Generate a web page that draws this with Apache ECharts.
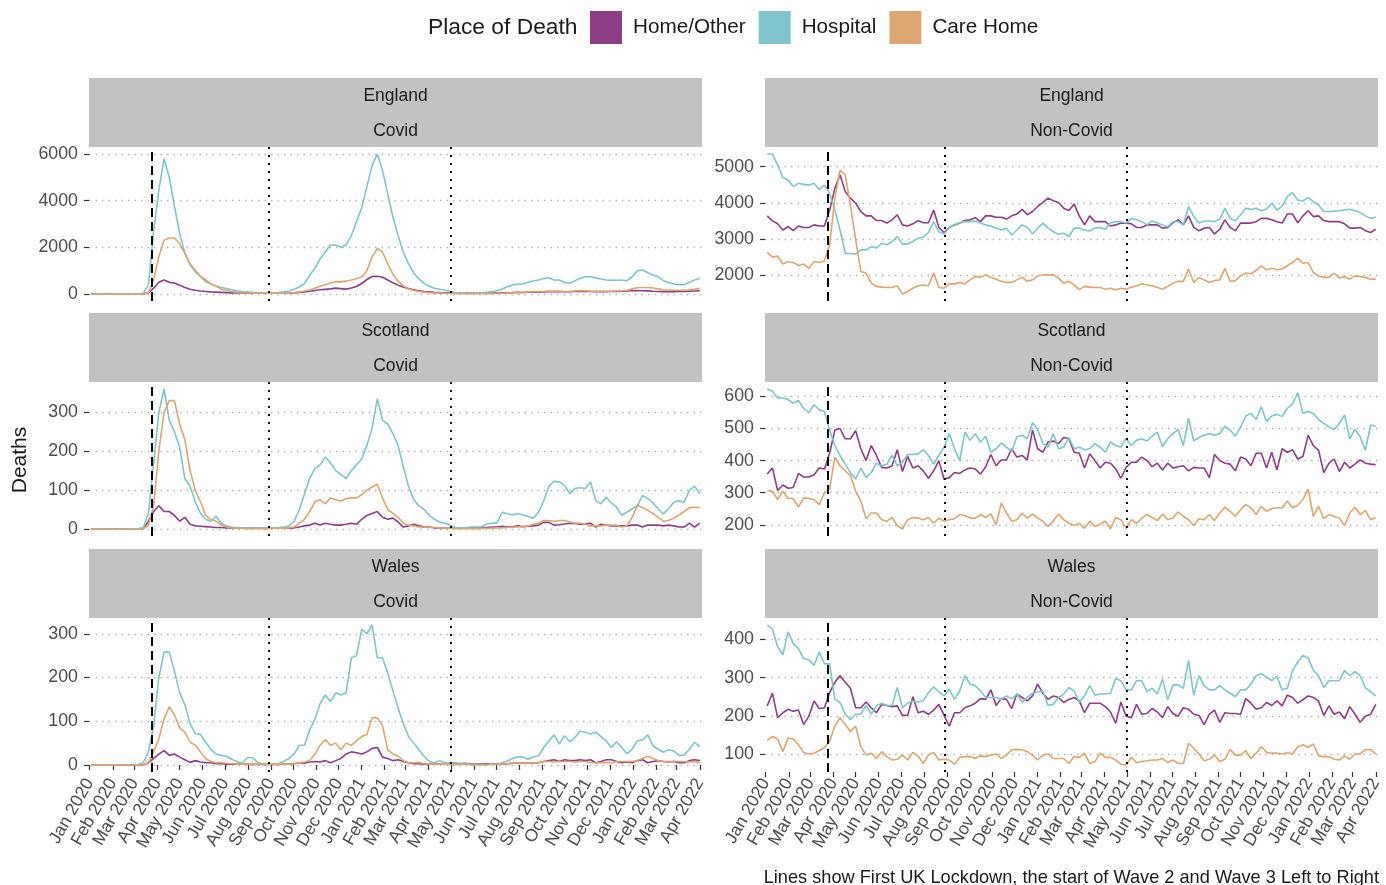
<!DOCTYPE html>
<html><head><meta charset="utf-8">
<script src="https://cdn.jsdelivr.net/npm/echarts@6/dist/echarts.min.js"></script>
<style>html,body{margin:0;padding:0;background:#fff}#c{width:1386px;height:885px}</style>
</head><body><div id="c"></div>
<script>
const FONT = '"Liberation Sans", Arial, Helvetica, sans-serif';
const firstWeek = '2020-01-03';
const monthTicks = ['2020-01-01','2020-02-01','2020-03-01','2020-04-01','2020-05-01','2020-06-01','2020-07-01','2020-08-01','2020-09-01','2020-10-01','2020-11-01','2020-12-01',
  '2021-01-01','2021-02-01','2021-03-01','2021-04-01','2021-05-01','2021-06-01','2021-07-01','2021-08-01','2021-09-01','2021-10-01','2021-11-01','2021-12-01',
  '2022-01-01','2022-02-01','2022-03-01','2022-04-01'];
const monthLabels = ['Jan 2020','Feb 2020','Mar 2020','Apr 2020','May 2020','Jun 2020','Jul 2020','Aug 2020','Sep 2020','Oct 2020','Nov 2020','Dec 2020',
  'Jan 2021','Feb 2021','Mar 2021','Apr 2021','May 2021','Jun 2021','Jul 2021','Aug 2021','Sep 2021','Oct 2021','Nov 2021','Dec 2021',
  'Jan 2022','Feb 2022','Mar 2022','Apr 2022'];
const placeNames = ['Home/Other','Hospital','Care Home'];
const placeColors = ['#8c3d86','#80c4cb','#dca673'];
const lockdownDate = '2020-03-24';
const wave2Date = '2020-08-29';
const wave3Date = '2021-05-01';
const xMinDate = '2019-12-31';
const xMaxDate = '2022-04-04';

const yTicksEngCov = [0,2000,4000,6000];
const yTicksScoCov = [0,100,200,300];
const yTicksWalCov = [0,100,200,300];
const yTicksEngNon = [2000,3000,4000,5000];
const yTicksScoNon = [200,300,400,500,600];
const yTicksWalNon = [100,200,300,400];

// England Covid
const engCovHome = [0,0,0,0,0,0,0,0,0,0, 5,50,250,500,600,500,470,380,280,200, 160,130,110,90,80,70,60,50,45,40, 35,30,30,30,30,30,30,35,40,50,
  70,90,120,150,180,200,220,250,230,210, 260,320,450,620,750,760,720,600,480,380, 300,230,180,140,110,90,70,60,55,50, 40,35,30,30,30,30,35,40,45,50,
  55,60,70,65,75,85,80,90,100,95, 100,95,95,110,115,110,105,100,100,100, 105,110,115,130,140,145,140,135,120,110, 100,100,100,105,110,120,130,140];
const engCovHosp = [0,0,0,0,0,0,0,0,0,5, 30,400,2700,4450,5800,5000,3750,2600,1750,1250, 950,750,530,430,340,280,230,180,140,110, 90,70,60,55,50,50,60,90,130,200,
  300,450,800,1100,1500,1800,2100,2100,2000,2100, 2500,3100,3700,4600,5500,6000,5300,4300,3300,2500, 1800,1300,900,650,450,330,250,200,160,110, 60,30,30,30,30,40,70,100,140,210,
  310,390,430,430,500,560,600,660,700,600, 600,490,460,570,670,740,740,690,640,600, 590,590,600,570,740,990,1030,910,810,740, 570,490,430,400,400,500,600,660];
const engCovCare = [0,0,0,0,0,0,0,0,0,0, 5,50,600,1600,2300,2400,2400,2150,1750,1300, 1030,770,600,430,340,200,150,110,80,60, 50,40,35,30,30,30,30,30,40,60,
  90,130,170,250,330,400,470,530,520,550, 600,650,730,1000,1600,1950,1800,1300,850,550, 350,220,150,110,80,60,50,40,30,25, 20,15,12,10,10,10,12,15,20,30,
  40,50,60,70,90,100,100,110,120,130, 120,110,110,130,150,140,120,110,110,110, 120,130,140,160,220,270,280,280,260,220, 180,170,160,160,170,180,200,240];

// Scotland Covid
const scoCovHome = [0,0,0,0,0,0,0,0,0,0, 0,20,45,60,45,45,35,20,30,12, 8,7,6,5,4,4,3,3,2,2, 2,2,2,2,2,2,2,2,2,3,
  5,8,10,15,10,15,12,10,10,12, 15,12,25,35,40,45,30,25,28,18, 5,8,12,8,5,5,3,3,2,2, 2,2,3,3,3,3,4,5,5,7,
  5,6,8,6,7,8,10,17,17,10, 11,13,15,14,12,13,15,5,12,10, 8,8,8,8,10,10,5,10,10,10, 8,10,8,5,5,15,5,15];
const scoCovHosp = [0,0,0,0,0,0,0,0,0,1, 4,40,170,300,360,280,250,210,130,110, 70,40,25,20,33,15,8,5,3,3, 3,2,2,2,2,3,4,5,8,20,
  50,90,130,155,165,185,170,150,140,130, 150,165,180,215,260,335,280,270,245,215, 160,110,75,60,50,35,25,18,15,10, 3,3,4,5,5,5,13,15,15,43,
  39,36,40,36,32,28,43,73,110,123, 121,112,91,104,106,104,121,73,65,82, 67,56,35,43,52,60,86,78,67,52, 39,52,69,73,69,99,110,91];
const scoCovCare = [0,0,0,0,0,0,0,0,0,0, 0,10,60,200,300,330,330,270,230,150, 100,70,35,25,20,10,5,3,2,2, 1,1,1,1,1,2,2,2,3,5,
  15,25,45,70,75,65,80,75,72,78, 80,80,88,100,108,115,80,50,40,30, 15,10,8,5,5,4,4,3,2,2, 1,1,1,1,1,1,2,2,3,3,
  4,5,5,6,8,12,15,22,22,20, 22,22,18,15,15,12,8,8,8,10, 10,10,5,8,30,60,55,48,40,30, 20,22,28,36,45,55,56,55];

// Wales Covid
const walCovHome = [0,0,0,0,0,0,0,0,0,0, 0,5,15,25,33,22,25,18,12,6, 10,7,5,5,3,3,2,2,2,2, 2,1,1,1,1,1,1,2,2,3,
  5,4,7,8,7,10,5,10,15,25, 30,28,25,30,38,40,18,15,10,12, 8,5,3,3,2,2,2,2,2,2, 2,2,2,2,2,2,3,3,3,3,
  3,4,4,5,4,5,5,8,10,12, 8,12,10,10,12,10,12,5,8,12, 12,8,5,7,5,10,12,5,8,10, 8,7,8,5,5,10,12,10];
const walCovHosp = [0,0,0,0,0,0,0,0,0,1, 5,30,90,200,258,258,215,165,138,95, 72,70,52,36,25,22,20,13,8,4, 17,17,6,2,1,2,3,8,15,25,
  45,45,80,105,140,160,145,165,160,165, 245,250,310,300,320,245,245,210,170,130, 95,65,50,35,20,8,5,10,5,5, 5,4,5,0,0,0,0,3,1,5,
  9,15,19,18,13,19,21,40,55,69, 48,67,53,63,77,75,71,75,65,55, 40,53,40,26,36,55,58,69,44,36, 29,35,32,22,23,36,52,42];
const walCovCare = [0,0,0,0,0,0,0,0,0,0, 0,5,30,60,105,133,115,85,75,52, 45,30,15,8,5,5,4,3,2,2, 2,2,2,2,2,2,2,2,2,3,
  5,7,10,25,45,58,45,50,35,50, 45,55,65,70,108,108,90,35,25,20, 10,5,5,6,3,2,2,2,2,2, 1,1,1,1,1,1,1,1,2,2,
  3,4,4,5,4,5,5,8,8,7, 8,8,8,7,8,8,5,5,5,6, 5,8,8,8,8,10,15,20,15,10, 8,8,8,8,8,7,8,5];

// England Non-Covid
const engNonHome = [3640,3500,3420,3250,3340,3230,3360,3320,3320,3390, 3360,3360,3800,4400,4770,4310,4130,3990,3760,3640, 3640,3510,3510,3440,3530,3670,3390,3360,3420,3510,
  3450,3450,3800,3320,3180,3320,3390,3440,3510,3530, 3590,3480,3640,3640,3600,3600,3550,3640,3690,3820, 3670,3760,3900,4010,4130,4060,4010,3850,3790,3970,
  3640,3390,3640,3480,3480,3480,3360,3390,3440,3440, 3420,3320,3320,3390,3390,3390,3300,3320,3450,3530, 3390,3640,3320,3230,3300,3320,3140,3270,3530,3320,
  3230,3440,3440,3440,3480,3570,3570,3530,3480,3440, 3690,3690,3450,3640,3780,3620,3640,3510,3480,3480, 3480,3420,3300,3300,3320,3230,3180,3270];
const engNonHosp = [5350,5350,5045,4700,4630,4450,4540,4510,4490,4540, 4370,4490,4260,3800,3250,2600,2600,2580,2700,2700, 2790,2750,2880,2840,2930,3070,2860,2860,2930,3020,
  3050,3180,3480,3200,3140,3320,3400,3450,3480,3480, 3500,3440,3390,3360,3300,3250,3300,3110,3250,3390, 3320,3140,3300,3440,3300,3200,3130,3160,3070,3300,
  3300,3250,3220,3300,3320,3270,3450,3480,3480,3440, 3570,3530,3480,3390,3500,3440,3390,3340,3480,3480, 3390,3900,3620,3440,3500,3500,3480,3550,3850,3570,
  3500,3670,3850,3820,3850,3780,3830,3990,3800,3910, 4170,4280,4080,4050,4150,4030,3940,3760,3760,3770, 3780,3800,3820,3780,3730,3640,3570,3610];
const engNonCare = [2630,2500,2530,2310,2370,2350,2270,2310,2190,2380, 2350,2400,2840,4130,4900,4770,3940,2980,2100,2060, 1780,1690,1670,1660,1660,1710,1480,1550,1640,1710,
  1730,1710,2060,1660,1640,1760,1760,1800,1760,1870, 1960,1940,2010,1940,1890,1830,1800,1800,1870,1940, 1830,1870,1980,2010,2010,2010,1920,1780,1830,1730,
  1600,1690,1670,1660,1660,1610,1640,1600,1640,1610, 1670,1710,1760,1730,1710,1660,1610,1690,1780,1830, 1830,2170,1800,1940,1870,1800,1850,1870,2190,1830,
  1850,1980,2060,2040,2130,2260,2150,2190,2150,2170, 2260,2350,2470,2330,2350,2070,1980,1940,1940,2060, 1920,1960,1890,1980,1960,1940,1890,1890];

// Scotland Non-Covid
const scoNonHome = [358,377,307,324,314,316,360,349,349,356, 377,374,423,495,500,468,468,493,437,400, 447,416,379,377,384,434,366,413,377,384,
  368,345,368,400,342,347,363,360,371,377, 374,358,381,419,384,402,402,437,411,416, 402,495,437,426,458,461,453,472,468,426,
  423,377,421,400,377,395,392,374,345,379, 395,395,411,400,381,392,371,392,377,381, 384,368,379,377,377,347,419,400,392,389,
  368,411,405,384,423,423,377,426,371,437, 426,434,405,413,479,447,432,363,392,405, 366,395,377,389,402,392,389,387];
const scoNonHosp = [623,616,595,595,590,579,587,563,549,574, 558,553,495,447,416,389,363,342,377,347, 363,392,384,389,416,384,395,419,419,421,
  434,416,389,416,442,484,437,400,489,463, 484,458,476,426,437,455,442,429,474,479, 468,518,497,453,442,484,437,442,472,437,
  442,434,437,453,442,426,458,447,442,468, 447,463,468,461,476,489,444,468,484,497, 447,532,461,472,479,484,479,484,507,495,
  476,505,539,547,528,568,521,539,544,537, 563,577,611,547,553,547,528,516,505,497, 516,542,468,497,474,432,511,507];
const scoNonCare = [307,305,279,305,282,282,255,284,282,279, 263,300,311,411,384,368,353,305,274,219, 237,237,216,211,223,198,187,216,223,221,
  216,223,205,221,211,216,219,232,229,221, 221,232,223,234,200,268,237,211,216,237, 221,234,221,211,195,213,234,216,205,198,
  205,189,211,195,202,211,187,223,216,189, 216,205,221,232,223,213,234,216,221,240, 226,216,198,219,216,232,213,237,255,242,
  226,247,263,253,232,258,242,251,253,253, 274,253,261,279,311,226,258,219,232,226, 221,198,237,255,232,244,216,223];

// Wales Non-Covid
const walNonHome = [226,259,195,208,217,212,215,177,199,239, 219,221,261,288,305,288,272,221,221,236, 221,208,230,227,224,226,201,201,250,208,
  212,204,215,230,201,173,208,208,221,226, 233,245,243,268,227,245,243,219,257,248, 239,252,283,259,243,252,248,235,243,248,
  239,208,233,233,233,224,210,180,236,199, 195,230,204,206,219,210,195,224,206,199, 221,217,204,201,177,204,215,183,208,206,
  206,204,245,233,217,221,235,227,239,226, 254,248,233,242,252,248,239,201,226,204, 210,192,224,204,183,199,204,230];
const walNonHosp = [438,427,381,360,420,389,376,350,347,332, 367,336,336,243,235,204,190,204,204,227, 204,226,233,227,227,274,221,233,239,236,
  239,261,276,263,252,270,243,265,305,283, 279,265,248,248,248,243,252,245,257,236, 248,259,263,265,227,230,248,257,274,265,
  236,252,279,254,257,257,259,298,292,268, 268,292,292,263,272,257,296,242,281,281, 272,345,254,305,279,268,268,279,268,259,
  250,268,268,283,305,310,301,292,303,268, 272,319,341,358,351,319,305,274,292,292, 292,319,305,316,305,274,263,252];
const walNonCare = [135,146,139,106,142,139,124,104,100,102, 109,117,133,173,195,177,159,173,119,97, 102,88,106,93,84,86,97,84,104,95,
  75,97,104,84,86,84,73,91,93,93, 88,95,93,97,100,88,97,111,112,111, 106,97,84,97,100,88,88,88,75,93,
  91,102,75,80,102,91,91,84,73,71, 91,77,80,82,84,84,88,77,84,75, 75,128,115,100,82,86,97,80,86,112,
  97,97,109,88,102,119,104,102,102,100, 104,100,119,124,117,126,95,93,93,86, 84,95,86,100,100,111,111,100];

const panels = [
  {row:0, col:0, place:'England',  cause:'Covid',     data:[engCovHome, engCovHosp, engCovCare], ticks:yTicksEngCov},
  {row:0, col:1, place:'England',  cause:'Non-Covid', data:[engNonHome, engNonHosp, engNonCare], ticks:yTicksEngNon},
  {row:1, col:0, place:'Scotland', cause:'Covid',     data:[scoCovHome, scoCovHosp, scoCovCare], ticks:yTicksScoCov},
  {row:1, col:1, place:'Scotland', cause:'Non-Covid', data:[scoNonHome, scoNonHosp, scoNonCare], ticks:yTicksScoNon},
  {row:2, col:0, place:'Wales',    cause:'Covid',     data:[walCovHome, walCovHosp, walCovCare], ticks:yTicksWalCov},
  {row:2, col:1, place:'Wales',    cause:'Non-Covid', data:[walNonHome, walNonHosp, walNonCare], ticks:yTicksWalNon}
];

// ---- layout ----
const colLeft = [89, 765], colWidth = 613;
const rowTop = [147, 382, 618], rowHeight = 154;
const stripH = 34.5, stripFill = '#c2c2c2';
const font = (s) => s + 'px ' + FONT;

const DAY = 86400000;
function ts(s){ const p = s.split('-').map(Number); return Date.UTC(p[0], p[1]-1, p[2]); }
const t0 = ts(firstWeek);
const weekTimes = engCovHome.map((_, i) => t0 + i * 7 * DAY);
const tickTimes = monthTicks.map(ts);
const fmtMonth = (v) => { const k = tickTimes.indexOf(Number(v)); return k >= 0 ? monthLabels[k] : ''; };

const grids = [], xAxes = [], yAxes = [], series = [], graphics = [];
panels.forEach((p, k) => {
  const left = colLeft[p.col], top = rowTop[p.row];
  const isBottom = p.row === 2;
  grids.push({left: left, top: top, width: colWidth, height: rowHeight, containLabel: false, outerBoundsMode: 'none'});
  xAxes.push({
    type: 'value', gridIndex: k, min: ts(xMinDate), max: ts(xMaxDate), scale: true,
    axisLine: {show: false},
    axisTick: {show: isBottom, customValues: tickTimes, length: 5, lineStyle: {color: '#333', width: 1.2}},
    axisLabel: {show: isBottom, customValues: tickTimes, formatter: fmtMonth, rotate: 60, fontSize: 17.5, color: '#4d4d4d',
      fontFamily: FONT, margin: 8, hideOverlap: false},
    splitLine: {show: false}
  });
  const all = [].concat(...p.data);
  const lo = Math.min(...all), hi = Math.max(...all), pad = (hi - lo) * 0.05;
  yAxes.push({
    type: 'value', gridIndex: k, min: lo - pad, max: hi + pad,
    axisLine: {show: false},
    axisTick: {show: true, customValues: p.ticks, length: 5, lineStyle: {color: '#333', width: 1.2}},
    axisLabel: {customValues: p.ticks, formatter: (v) => String(Math.round(v)), fontSize: 17.8, color: '#4d4d4d', fontFamily: FONT, margin: 11},
    splitLine: {show: true, lineStyle: {color: '#b3b3b3', width: 1.4, type: [1.5, 5]}}
  });
  p.data.forEach((arr, j) => {
    const s = {
      type: 'line', name: placeNames[j], xAxisIndex: k, yAxisIndex: k,
      data: weekTimes.map((t, i) => [t, arr[i]]),
      showSymbol: false, symbol: 'none', silent: true, z: 2 + j,
      lineStyle: {width: 1.6, color: placeColors[j]}, itemStyle: {color: placeColors[j]},
      emphasis: {disabled: true}
    };
    if (j === 2) {
      s.markLine = {
        silent: true, symbol: ['none', 'none'], label: {show: false}, animation: false,
        data: [
          {xAxis: ts(lockdownDate), lineStyle: {color: '#000', width: 2, type: [9, 5]}},
          {xAxis: ts(wave2Date), lineStyle: {color: '#000', width: 2, type: [2, 6]}},
          {xAxis: ts(wave3Date), lineStyle: {color: '#000', width: 2, type: [2, 6]}}
        ]
      };
    }
    series.push(s);
  });
  const sTop = top - 2 * stripH;
  graphics.push({type: 'rect', silent: true, shape: {x: left, y: sTop, width: colWidth, height: 2 * stripH}, style: {fill: stripFill}});
  graphics.push({type: 'text', silent: true, x: left + colWidth / 2, y: sTop + stripH / 2 + 1,
    style: {text: p.place, font: font(17.5), fill: '#1a1a1a', align: 'center', verticalAlign: 'middle'}});
  graphics.push({type: 'text', silent: true, x: left + colWidth / 2, y: sTop + stripH * 1.5 + 1,
    style: {text: p.cause, font: font(17.5), fill: '#1a1a1a', align: 'center', verticalAlign: 'middle'}});
});

graphics.push({type: 'text', silent: true, x: 428, y: 28,
  style: {text: 'Place of Death', font: font(22.8), fill: '#1a1a1a', align: 'left', verticalAlign: 'middle'}});
graphics.push({type: 'text', silent: true, x: 20, y: 460, rotation: Math.PI / 2,
  style: {text: 'Deaths', font: font(21), fill: '#1a1a1a', align: 'center', verticalAlign: 'middle'}});
graphics.push({type: 'text', silent: true, x: 1379, y: 878,
  style: {text: 'Lines show First UK Lockdown, the start of Wave 2 and Wave 3 Left to Right', font: font(18.2), fill: '#1a1a1a', align: 'right', verticalAlign: 'middle'}});

const chart = echarts.init(document.getElementById('c'), null, {renderer: 'canvas'});
chart.setOption({
  animation: false,
  backgroundColor: '#ffffff',
  textStyle: {fontFamily: FONT},
  legend: {
    left: 590, top: 11, padding: 0, itemWidth: 32, itemHeight: 33, itemGap: 13, icon: 'rect', selectedMode: false,
    data: placeNames, itemStyle: {borderWidth: 0},
    textStyle: {fontSize: 20.7, color: '#1a1a1a', fontFamily: FONT, padding: [2, 0, 0, 6]}
  },
  grid: grids, xAxis: xAxes, yAxis: yAxes, series: series, graphic: graphics
});
</script></body></html>
